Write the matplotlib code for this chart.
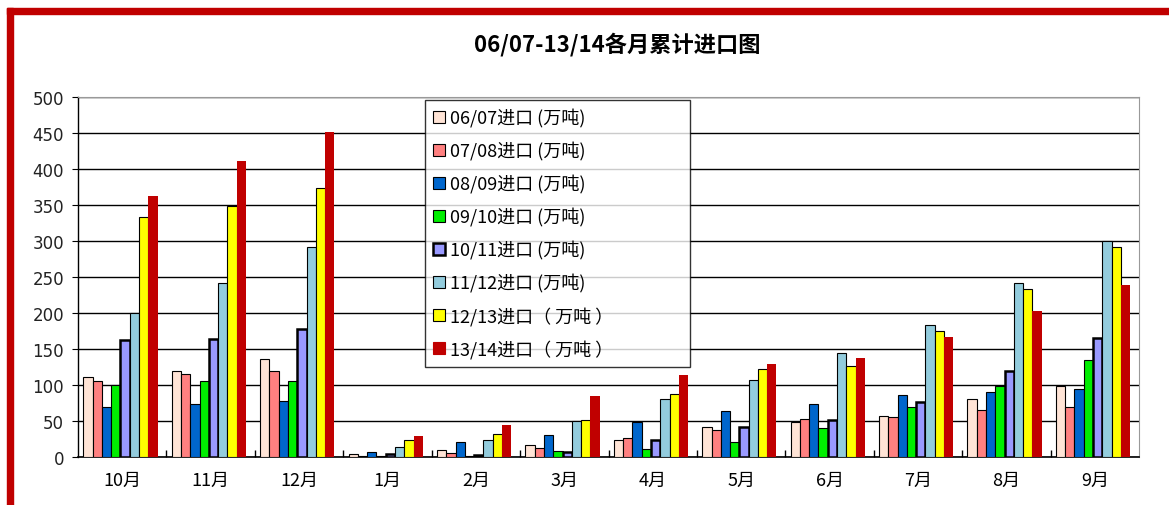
import numpy as np
import matplotlib
matplotlib.use('Agg')
import matplotlib.pyplot as plt
from matplotlib.patches import Rectangle

plt.rcParams['font.family'] = ['Noto Sans CJK SC', 'DejaVu Sans']

months = ['10月', '11月', '12月', '1月', '2月', '3月', '4月', '5月', '6月', '7月', '8月', '9月']
seasons = ['06/07进口 (万吨)', '07/08进口 (万吨)', '08/09进口 (万吨)', '09/10进口 (万吨)',
           '10/11进口 (万吨)', '11/12进口 (万吨)', '12/13进口（ 万吨 ）', '13/14进口（ 万吨 ）']

s0607 = [111, 120, 136, 4, 10, 17, 24, 42, 49, 57, 81, 98]
s0708 = [106, 115, 120, 1, 6, 12, 26, 37, 53, 55, 65, 70]
s0809 = [70, 73, 78, 7, 21, 30, 48, 64, 73, 86, 90, 94]
s0910 = [100, 105, 106, 2, 2, 8, 11, 21, 40, 70, 99, 135]
s1011 = [162, 164, 178, 4, 3, 7, 23, 41, 52, 76, 119, 165]
s1112 = [200, 242, 292, 14, 23, 50, 80, 107, 145, 184, 242, 300]
s1213 = [334, 348, 374, 23, 32, 52, 88, 122, 127, 175, 234, 291]
s1314 = [362, 411, 452, 29, 44, 85, 114, 129, 138, 167, 203, 239]

series = [s0607, s0708, s0809, s0910, s1011, s1112, s1213, s1314]
colors = ['#FFE4D6', '#FF8080', '#0066CC', '#00EE00', '#9999FF', '#93CCDD', '#FFFF00', '#C00000']
edge_w = [0.8, 0.8, 0.8, 0.8, 1.8, 0.8, 0.8, 0.0]

fig = plt.figure(figsize=(11.69, 5.06), dpi=100)
ax = fig.add_axes([78/1169, 1-458/506, (1139-78)/1169, (458-98)/506])

x = np.arange(len(months))
w = 0.105
for i, vals in enumerate(series):
    ax.bar(x + (i - 3.5) * w - 0.02, vals, width=w, color=colors[i],
           edgecolor='black' if edge_w[i] > 0 else colors[i],
           linewidth=edge_w[i], label=seasons[i], zorder=3)

ax.set_xlim(-0.5, len(months) - 0.5)
ax.set_ylim(0, 500)
ax.set_yticks(np.arange(0, 501, 50))
ax.yaxis.grid(True, color='black', linewidth=1.0, zorder=0)
ax.set_axisbelow(True)
ax.tick_params(axis='y', direction='out', length=4, width=0.8, labelsize=12, pad=6)
for t in ax.get_yticklabels():
    t.set_family('DejaVu Sans')
    t.set_color('#222222')

ax.set_xticks(x)
ax.set_xticklabels(months, fontsize=13)
ax.tick_params(axis='x', length=0, pad=10)
ax.set_xticks(np.arange(0.5, len(months) - 0.5, 1), minor=True)
ax.tick_params(axis='x', which='minor', direction='in', length=5, width=1.0)

ax.spines['left'].set_linewidth(1.0)
ax.spines['bottom'].set_linewidth(1.2)
ax.spines['top'].set_color('#999999')
ax.spines['right'].set_color('#999999')

leg = ax.legend(loc='upper left', bbox_to_anchor=(0.327, 0.26, 0.25, 0.732), mode='expand',
                fontsize=13, frameon=True, fancybox=False, edgecolor='black',
                handlelength=0.65, handleheight=0.65, handletextpad=0.3,
                labelspacing=0.78, borderpad=0.45, borderaxespad=0)
leg.get_frame().set_linewidth(1.0)
for h in leg.legend_handles:
    h.set_linewidth(0.8)
    h.set_edgecolor('black')
leg.legend_handles[-1].set_edgecolor('#C00000')
leg.legend_handles[4].set_linewidth(1.8)

fig.text(617/1169, 1-45/506, '06/07-13/14各月累计进口图', ha='center', va='center',
         fontsize=16, fontweight='bold')

# red frame on top and left
fig.patches.append(Rectangle((7/1169, 0), 6/1169, 1-9/506, transform=fig.transFigure,
                             color='#C00000', zorder=10))
fig.patches.append(Rectangle((7/1169, 1-15/506), 1 - 7/1169, 6/506, transform=fig.transFigure,
                             color='#C00000', zorder=10))

fig.savefig('out.png', dpi=100)
